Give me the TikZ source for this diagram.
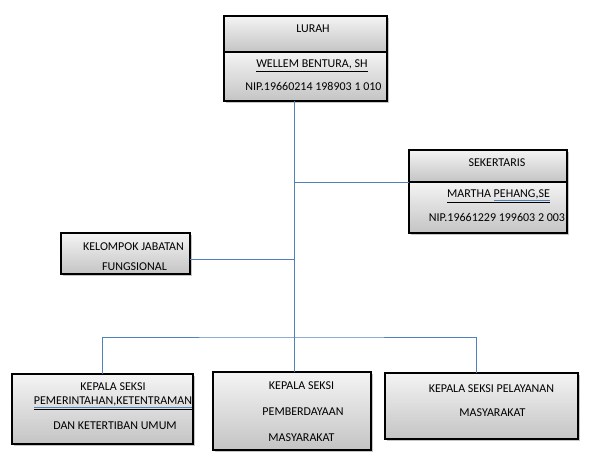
\documentclass[tikz,border=0pt]{standalone}
\usepackage{fontspec}
\setmainfont{Carlito}
\usepackage{tikz}
\usetikzlibrary{positioning, shadows}
\definecolor{cLine}{HTML}{4F81BD}
\definecolor{cTop}{HTML}{F4F4F4}
\definecolor{cBottom}{HTML}{C4C4C4}

% underline with the blue spell mark below it
\newcommand{\spellmark}[1]{\setbox0\hbox{#1}\rlap{\color{cLine}\rule[-3.2pt]{\wd0}{0.6pt}}\box0}

\begin{document}
\begin{tikzpicture}[
  x=1pt, y=-1pt,
  every node/.style={font=\fontsize{12}{14}\selectfont},
  box/.style={rectangle, draw=black, line width=1.1pt, outer sep=0pt, inner sep=0pt,
              top color=cTop, bottom color=cBottom,
              general shadow={fill=gray!45, shadow xshift=2pt, shadow yshift=-2pt}},
  txt/.style={inner sep=0pt, text height=7.7pt, text depth=0pt},
  link/.style={draw=cLine, line width=0.8pt},
]
\useasboundingbox (0,0) rectangle (589,462);

% Boxes
\node[box, minimum width=163pt, minimum height=36pt] (lurahTop) at (305.5,34) {};
\node[box, minimum width=163pt, minimum height=49pt, below=0pt of lurahTop] (lurahBot) {};

\node[box, minimum width=158pt, minimum height=32pt] (sekTop) at (488,166) {};
\node[box, minimum width=158pt, minimum height=51pt, below=0pt of sekTop] (sekBot) {};

\node[box, minimum width=129pt, minimum height=41pt] (kjf) at (125.5,253.5) {};

\node[box, minimum width=181pt, minimum height=70pt] (ks1) at (102.5,409) {};
\node[box, minimum width=158pt, minimum height=78pt] (ks2) at (292,411) {};
\node[box, minimum width=193pt, minimum height=66pt] (ks3) at (481.5,406) {};

% Texts
\node[txt] (lurahT) at (313,28.5) {LURAH};
\node[txt] (lurahN) at (312,64) {\underline{WELLEM BENTURA, SH}};
\node[txt] (lurahP) at (313.5,86.5) {NIP.19660214 198903 1 010};

\node[txt] (sekT) at (497,163) {SEKERTARIS};
\node[txt] (sekN) at (498.5,193.5) {\underline{MARTHA \spellmark{PEHANG,SE}}};
\node[txt] (sekP) at (497,218) {NIP.19661229 199603 2 003};

\node[txt] (kjfA) at (133.5,246.5) {KELOMPOK JABATAN};
\node[txt] (kjfB) at (134.5,266.5) {FUNGSIONAL};

\node[txt] (ks1A) at (113,387) {KEPALA SEKSI};
\node[txt] (ks1B) at (113,401) {\underline{\spellmark{PEMERINTAHAN,KETENTRAMAN}}};
\node[txt] (ks1C) at (115,426) {DAN KETERTIBAN UMUM};

\node[txt] (ks2A) at (301.5,386) {KEPALA SEKSI};
\node[txt] (ks2B) at (303,412) {PEMBERDAYAAN};
\node[txt] (ks2C) at (301.5,437.5) {MASYARAKAT};

\node[txt] (ks3A) at (491.5,389) {KEPALA SEKSI PELAYANAN};
\node[txt] (ks3B) at (492.5,413) {MASYARAKAT};

% Lines
\coordinate (hub) at (294,337);
\draw[link] (lurahBot.south -| hub) -- (hub);
\draw[link] (sekTop.south west) -- (sekTop.south west -| hub);
\draw[link] ([yshift=-6pt]kjf.east) -- ([yshift=-6pt]kjf.east -| hub);
\draw[link] (ks1.north) |- (hub) -| ([xshift=-5.5pt]ks3.north);
\draw[link] (hub) -- (hub |- ks2.north);

\end{tikzpicture}
\end{document}
